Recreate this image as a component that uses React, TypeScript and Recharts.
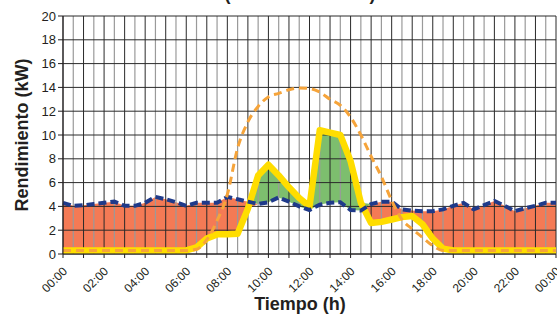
import React from 'react';
import { ComposedChart, Area, Line, XAxis, YAxis, CartesianGrid } from 'recharts';

// hora del día (h), cada 30 min
const HOURS = [0, 0.5, 1, 1.5, 2, 2.5, 3, 3.5, 4, 4.5, 5, 5.5, 6, 6.5, 7, 7.5, 8, 8.5, 9, 9.5, 10, 10.5, 11, 11.5, 12, 12.5, 13, 13.5, 14, 14.5, 15, 15.5, 16, 16.5, 17, 17.5, 18, 18.5, 19, 19.5, 20, 20.5, 21, 21.5, 22, 22.5, 23, 23.5, 24];

// consumo (kW) - línea azul discontinua
const CONSUMO = [4.3, 4.05, 4.1, 4.2, 4.3, 4.4, 4.05, 4.05, 4.3, 4.8, 4.6, 4.35, 4.05, 4.3, 4.3, 4.3, 4.8, 4.6, 4.4, 4.2, 4.35, 4.75, 4.4, 4.0, 3.7, 4.15, 4.3, 4.35, 3.7, 3.65, 4.2, 4.4, 4.4, 3.75, 3.65, 3.6, 3.6, 3.75, 4.05, 4.3, 3.75, 4.1, 4.45, 4.05, 3.6, 3.85, 4.05, 4.3, 4.3];

// generación fotovoltaica real (kW) - línea amarilla
const FV_REAL = [0.3, 0.3, 0.3, 0.3, 0.3, 0.3, 0.3, 0.3, 0.3, 0.3, 0.3, 0.3, 0.3, 0.55, 1.3, 1.65, 1.65, 1.7, 3.8, 6.6, 7.5, 6.6, 5.6, 4.7, 4.0, 10.4, 10.2, 10.0, 7.8, 4.3, 2.6, 2.7, 2.9, 3.1, 3.2, 2.5, 1.3, 0.45, 0.3, 0.3, 0.3, 0.3, 0.3, 0.3, 0.3, 0.3, 0.3, 0.3, 0.3];

// generación teórica (kW) - línea naranja discontinua
const FV_TEORICA = [0.3, 0.3, 0.3, 0.3, 0.3, 0.3, 0.3, 0.3, 0.3, 0.3, 0.3, 0.3, 0.3, 0.4, 1.2, 2.8, 5.0, 8.9, 11.1, 12.4, 13.2, 13.5, 13.8, 13.95, 13.9, 13.6, 13.0, 12.5, 11.5, 10.0, 8.2, 6.5, 4.5, 2.9, 2.1, 1.4, 0.7, 0.3, 0.3, 0.3, 0.3, 0.3, 0.3, 0.3, 0.3, 0.3, 0.3, 0.3, 0.3];

const X_TICKS = [0, 1, 2, 3, 4, 5, 6, 7, 8, 9, 10, 11, 12, 13, 14, 15, 16, 17, 18, 19, 20, 21, 22, 23, 24];
const HALF_HOURS = [0.5, 1.5, 2.5, 3.5, 4.5, 5.5, 6.5, 7.5, 8.5, 9.5, 10.5, 11.5, 12.5, 13.5, 14.5, 15.5, 16.5, 17.5, 18.5, 19.5, 20.5, 21.5, 22.5, 23.5];
const Y_TICKS = [0, 2, 4, 6, 8, 10, 12, 14, 16, 18, 20];

const data = HOURS.map((h, i) => ({
  h,
  consumo: CONSUMO[i],
  fv: FV_REAL[i],
  teorica: FV_TEORICA[i],
  deficit: [Math.min(FV_REAL[i], CONSUMO[i]), CONSUMO[i]],
  excedente: [CONSUMO[i], Math.max(FV_REAL[i], CONSUMO[i])],
}));

const FONT = "'Liberation Sans', Arial, sans-serif";

const HourTick = (props: any) => {
  const { x, y, payload } = props;
  const v = payload.value;
  if (v % 2 !== 0) return null;
  const label = (v % 24 < 10 ? '0' : '') + (v % 24) + ':00';
  const ax = x + 5;
  const ay = y + 12;
  return (
    <text x={ax} y={ay} transform={`rotate(-45 ${ax} ${ay})`} textAnchor="end"
      fontFamily={FONT} fontSize={12} fill="#231f20">
      {label}
    </text>
  );
};

const YTitle = () => (
  <text x={28} y={135} transform="rotate(-90 28 135)" textAnchor="middle"
    fontFamily={FONT} fontSize={18} fontWeight="bold" fill="#231f20">
    Rendimiento (kW)
  </text>
);

const XTitle = () => (
  <text x={300} y={310} textAnchor="middle"
    fontFamily={FONT} fontSize={18} fontWeight="bold" fill="#231f20">
    Tiempo (h)
  </text>
);

export default function App() {
  return (
    <div style={{ position: 'absolute', left: 0, top: 0, width: 557, height: 316, background: '#fff', overflow: 'hidden' }}>
      <div style={{ position: 'absolute', top: -16, left: 0, width: 600, textAlign: 'center', fontFamily: FONT, fontSize: 18, fontWeight: 'bold', color: '#231f20' }}>
        (Caso de estudio)
      </div>
      <ComposedChart width={557} height={316} data={data} margin={{ top: 16, right: 1, bottom: 0, left: 0 }}>
        <XAxis type="number" dataKey="h" domain={[0, 24]} ticks={X_TICKS} interval={0}
          height={62} tick={<HourTick />} tickLine={{ stroke: '#231f20' }} tickSize={4}
          axisLine={{ stroke: '#231f20' }} label={<XTitle />} />
        <YAxis type="number" domain={[0, 20]} ticks={Y_TICKS} interval={0} width={63}
          tick={{ fontFamily: FONT, fontSize: 13, fill: '#231f20' }} tickLine={{ stroke: '#231f20' }}
          tickSize={5} axisLine={{ stroke: '#231f20' }} allowDataOverflow label={<YTitle />} />
        <Area type="linear" dataKey="deficit" fill="#f47a55" fillOpacity={1} stroke="none" isAnimationActive={false} activeDot={false} />
        <Area type="linear" dataKey="excedente" fill="#7dbe6e" fillOpacity={1} stroke="none" isAnimationActive={false} activeDot={false} />
        <CartesianGrid horizontalValues={Y_TICKS} verticalValues={HALF_HOURS} horizontal={false}
          stroke="#9a9a9a" strokeWidth={1.2} strokeDasharray="" zIndex={150} />
        <CartesianGrid horizontalValues={Y_TICKS} verticalValues={X_TICKS}
          stroke="#2a2a2a" strokeWidth={1} strokeDasharray="" zIndex={150} />
        <Line type="linear" dataKey="fv" stroke="#ffdd00" strokeWidth={6.5} strokeLinejoin="round" dot={false} activeDot={false} isAnimationActive={false} />
        <Line type="linear" dataKey="consumo" stroke="#1f3a8a" strokeWidth={4} strokeDasharray="8 4" dot={false} activeDot={false} isAnimationActive={false} />
        <Line type="monotone" dataKey="teorica" stroke="#f6a43a" strokeWidth={3} strokeDasharray="8 5" dot={false} activeDot={false} isAnimationActive={false} />
      </ComposedChart>
    </div>
  );
}
